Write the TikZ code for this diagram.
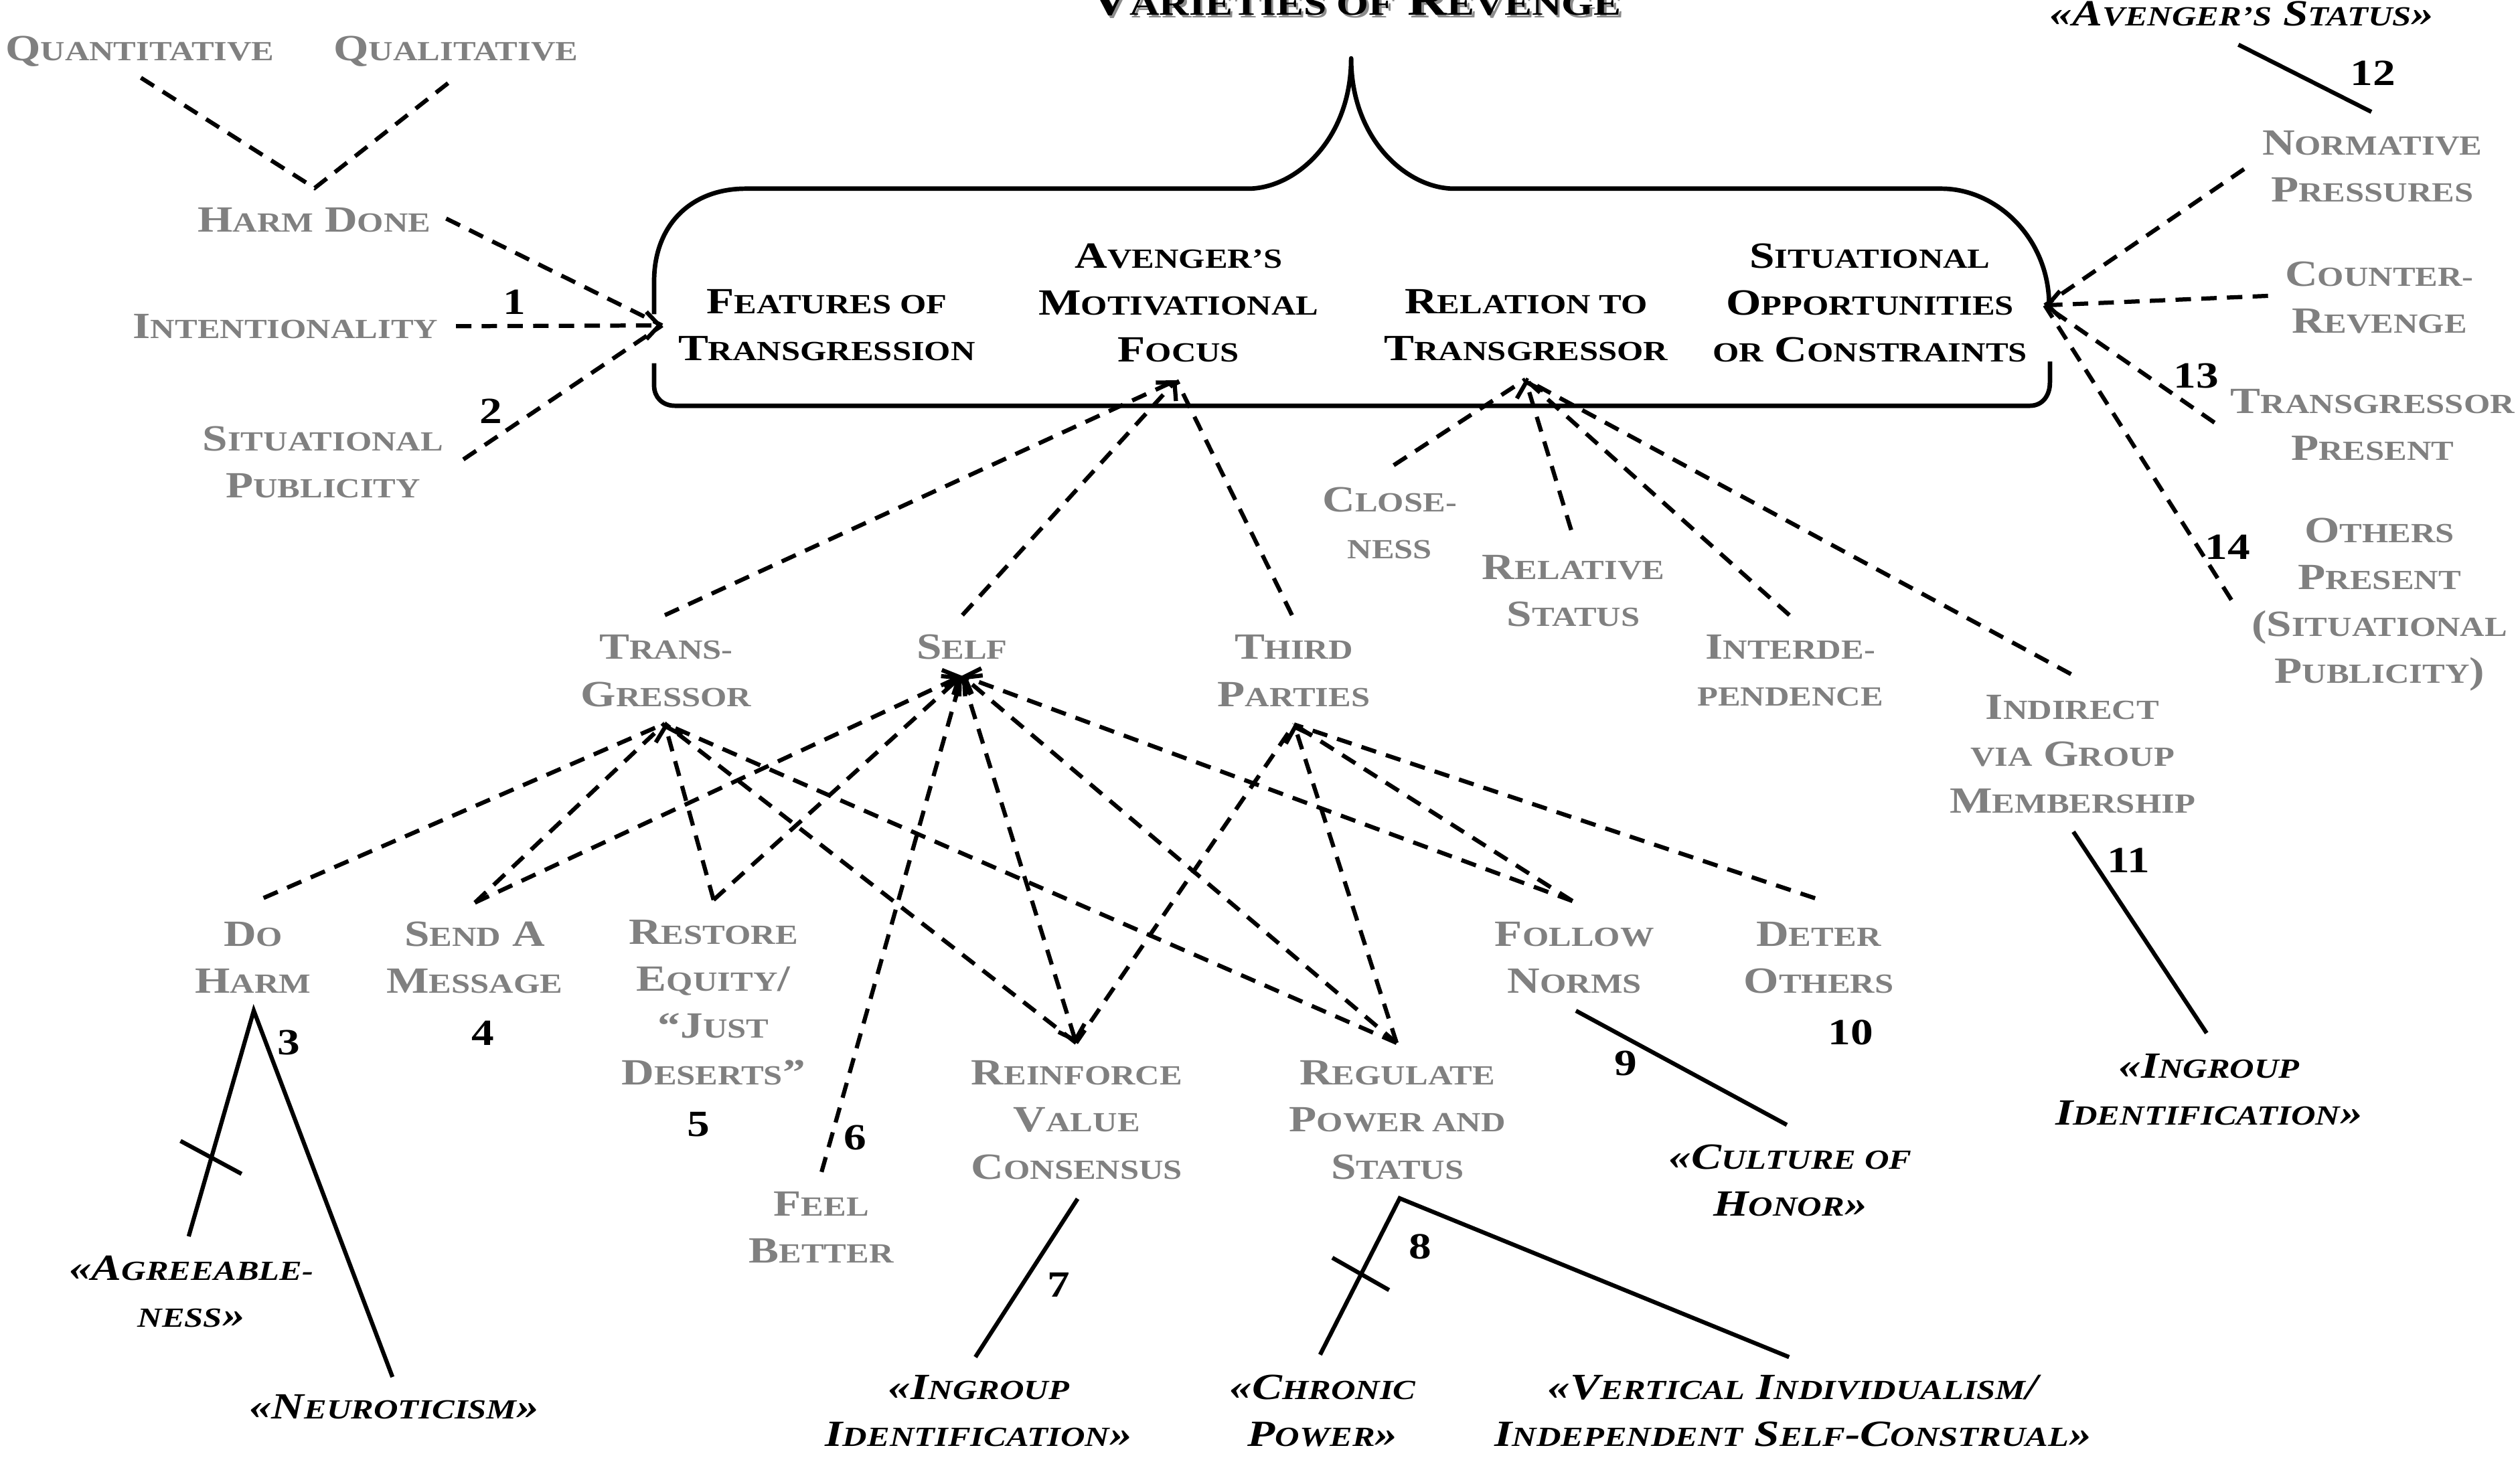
\documentclass[tikz,border=0pt]{standalone}
\usepackage{fontspec}
\setmainfont{Liberation Serif}[FakeStretch=1.22]
\usetikzlibrary{arrows.meta}
\definecolor{lblgray}{RGB}{128,128,128}
\makeatletter
\newcommand\sC[1]{{\fontsize{\fpeval{0.75*\f@size}}{\f@baselineskip}\selectfont\MakeUppercase{#1}}}
\makeatother
\newcommand\ml[1]{\begin{tabular}[t]{@{}c@{}}#1\end{tabular}}
\newcommand\lblfont{\fontsize{11.5}{14.6}\selectfont\bfseries}
\newcommand\itfont{\fontsize{11.5}{14.6}\selectfont\bfseries\itshape}
\newcommand\ttlfont{\fontsize{14}{16}\selectfont\bfseries}
\tikzset{
  lblbase/.style={inner sep=0pt, anchor=base},
  grey/.style={lblbase, text=lblgray, font=\lblfont},
  head/.style={lblbase, text=black, font=\lblfont},
  ital/.style={lblbase, text=black, font=\itfont},
  num/.style={inner sep=0pt, anchor=center, font=\lblfont},
  dsh/.style={line width=1.3pt, dash pattern=on 4.8pt off 3.2pt},
  sol/.style={line width=1.3pt},
  boxline/.style={line width=1.4pt, line join=round},
  tip/.style={-{Straight Barb[length=4pt,width=8.5pt]}},
  tipb/.style={{Straight Barb[length=4pt,width=8.5pt]}-}
}
\begin{document}
\begin{tikzpicture}[x=0.5pt,y=-0.5pt]
\useasboundingbox (0,0) rectangle (1568,912);

% ---------- title ----------
\node[lblbase, font=\ttlfont, text=black!45] (titleshadow) at (845,11) {V\sC{arieties of} R\sC{evenge}};
\node[lblbase, font=\ttlfont] (title) at (843.5,9.5) {V\sC{arieties of} R\sC{evenge}};

% ---------- brace box ----------
\draw[boxline] (407,195.5) -- (407,175) .. controls (407,140) and (430,117.4) .. (464,117.4)
  -- (776.5,117.4) .. controls (806.5,117.4) and (840.7,86.3) .. (840.7,36.3)
  .. controls (840.7,86.3) and (875,117.4) .. (905,117.4)
  -- (1208,117.4) .. controls (1242,117.4) and (1275,148) .. (1275,190);
\draw[boxline] (1275.5,225) -- (1275.5,238) .. controls (1275.5,246) and (1271,252.5) .. (1263,252.5)
  -- (420,252.5) .. controls (412,252.5) and (407,247) .. (407,240) -- (407,226);

% ---------- header texts ----------
\node[head] (feat) at (514.4,195.2) {\ml{F\sC{eatures of}\\T\sC{ransgression}}};
\node[head] (aven) at (733.3,166.7) {\ml{A\sC{venger’s}\\M\sC{otivational}\\F\sC{ocus}}};
\node[head] (rela) at (949.6,195.2) {\ml{R\sC{elation to}\\T\sC{ransgressor}}};
\node[head] (situ) at (1163.5,166.7) {\ml{S\sC{ituational}\\O\sC{pportunities}\\\sC{or} C\sC{onstraints}}};

% ---------- left group ----------
\node[grey] (quan) at (87,37.8) {Q\sC{uantitative}};
\node[grey] (qual) at (283.7,37.8) {Q\sC{ualitative}};
\node[grey] (harm) at (195.5,144.5) {H\sC{arm} D\sC{one}};
\node[grey] (inte) at (177.7,210.4) {I\sC{ntentionality}};
\node[grey] (spub) at (201,280.6) {\ml{S\sC{ituational}\\P\sC{ublicity}}};

\coordinate (qn-e) at (87.7,48.4);
\coordinate (ql-e) at (283.8,47.8);
\coordinate (hd-v) at (195.8,117);
\coordinate (hd-r) at (277.6,136);
\coordinate (in-r) at (283.7,203);
\coordinate (sp-r) at (288.3,285.9);
\coordinate (ft-tip) at (412,202.5);

\draw[dsh] (qn-e) -- (hd-v) -- (ql-e);
\draw[dsh] (hd-r) -- (ft-tip);
\draw[dsh,tip] (in-r) -- (ft-tip);
\draw[dsh] (sp-r) -- (ft-tip);
\node[num] (n1) at (320.1,188) {1};
\node[num] (n2) at (305.5,256) {2};

% ---------- right group ----------
\node[ital] (avst) at (1395,16.1) {«A\sC{venger’s} S\sC{tatus}»};
\node[grey] (norm) at (1476,96.4) {\ml{N\sC{ormative}\\P\sC{ressures}}};
\node[grey] (coun) at (1480.5,178.2) {\ml{C\sC{ounter-}\\R\sC{evenge}}};
\node[grey] (tpre) at (1476.3,257.2) {\ml{T\sC{ransgressor}\\P\sC{resent}}};
\node[grey] (opre) at (1480.6,337.5) {\ml{O\sC{thers}\\P\sC{resent}\\(S\sC{ituational}\\P\sC{ublicity})}};

\coordinate (as-bot) at (1392.8,27.8);
\coordinate (np-top) at (1475.5,69.6);
\coordinate (so-tip) at (1272.3,190);
\coordinate (np-l) at (1396.3,105.2);
\coordinate (cr-l) at (1411.2,184.1);
\coordinate (tq-l) at (1377.9,263);
\coordinate (op-l) at (1388.4,373.3);

\draw[sol] (as-bot) -- (np-top);
\draw[dsh] (np-l) -- (so-tip);
\draw[dsh,tip] (cr-l) -- (so-tip);
\draw[dsh] (tq-l) -- (so-tip);
\draw[dsh] (op-l) -- (so-tip);
\node[num] (n12) at (1476.6,45.3) {12};
\node[num] (n13) at (1366.4,233.8) {13};
\node[num] (n14) at (1386,340.3) {14};

% ---------- relation group ----------
\node[grey] (clos) at (864.7,318.5) {\ml{C\sC{lose-}\\\sC{ness}}};
\node[grey] (rsta) at (979,360.5) {\ml{R\sC{elative}\\S\sC{tatus}}};
\node[grey] (intd) at (1114,410.2) {\ml{I\sC{nterde-}\\\sC{pendence}}};
\node[grey] (indi) at (1289.5,447.5) {\ml{I\sC{ndirect}\\\sC{via} G\sC{roup}\\M\sC{embership}}};

\coordinate (rt-tip) at (949.1,236.1);
\coordinate (cl-top) at (867.2,289.5);
\coordinate (rs-top) at (977.6,329.8);
\coordinate (id-top) at (1113.4,382.8);
\coordinate (ig-top) at (1288.6,419.5);
\draw[dsh] (cl-top) -- (rt-tip);
\draw[dsh,tip] (rs-top) -- (rt-tip);
\draw[dsh] (id-top) -- (rt-tip);
\draw[dsh] (ig-top) -- (rt-tip);

\coordinate (ig-bot) at (1290.1,517.6);
\coordinate (ig2-top) at (1373,642.9);
\draw[sol] (ig-bot) -- (ig2-top);
\node[num] (n11) at (1324.3,535.2) {11};
\node[ital] (ingr) at (1374.5,670.7) {\ml{«I\sC{ngroup}\\I\sC{dentification}»}};

% ---------- motivational focus ----------
\node[grey] (trgr) at (414.5,410.3) {\ml{T\sC{rans-}\\G\sC{ressor}}};
\node[grey] (self) at (598.6,410.3) {\ml{S\sC{elf}}};
\node[grey] (thrd) at (805,410.3) {\ml{T\sC{hird}\\P\sC{arties}}};

\coordinate (am-tip) at (732,236.6);
\coordinate (tr-top) at (413.7,382.8);
\coordinate (sf-top) at (598.8,382.8);
\coordinate (tp-top) at (803.9,382.8);
\draw[dsh] (tr-top) -- (am-tip);
\draw[dsh,tip] (sf-top) -- (am-tip);
\draw[dsh] (tp-top) -- (am-tip);

% ---------- goals ----------
\node[grey] (doha) at (157.5,588.8) {\ml{D\sC{o}\\H\sC{arm}}};
\node[grey] (send) at (295.3,588.8) {\ml{S\sC{end} A\\M\sC{essage}}};
\node[grey] (rest) at (443.9,587.6) {\ml{R\sC{estore}\\E\sC{quity}/\\“J\sC{ust}\\D\sC{eserts}”}};
\node[grey] (feel) at (511,756.5) {\ml{F\sC{eel}\\B\sC{etter}}};
\node[grey] (rein) at (670,675.2) {\ml{R\sC{einforce}\\V\sC{alue}\\C\sC{onsensus}}};
\node[grey] (regu) at (869.5,675.2) {\ml{R\sC{egulate}\\P\sC{ower and}\\S\sC{tatus}}};
\node[grey] (foll) at (979.7,588.8) {\ml{F\sC{ollow}\\N\sC{orms}}};
\node[grey] (dete) at (1131.6,588.8) {\ml{D\sC{eter}\\O\sC{thers}}};

\coordinate (tr-bot) at (413.6,450.3);
\coordinate (sf-bot) at (598.5,420.5);
\coordinate (tp-bot) at (805.2,450.8);
\coordinate (dh-top) at (164,558.8);
\coordinate (sm-top) at (295.5,561.7);
\coordinate (re-top) at (444,560);
\coordinate (fb-top) at (511.2,729.3);
\coordinate (rv-top) at (669.6,649);
\coordinate (rp-top) at (869,649);
\coordinate (fn-top) at (978.4,560.7);
\coordinate (do-top) at (1129.4,559);

% to Transgressor
\draw[dsh] (dh-top) -- (tr-bot);
\draw[dsh] (sm-top) -- (tr-bot);
\draw[dsh,tip] (re-top) -- (tr-bot);
\draw[dsh] (rv-top) -- (tr-bot);
\draw[dsh] (rp-top) -- (tr-bot);
% to Self
\draw[dsh,tip] (sm-top) -- (sf-bot);
\draw[dsh,tip] (re-top) -- (sf-bot);
\draw[dsh,tip] (fb-top) -- (sf-bot);
\draw[dsh,tip,tipb] (rv-top) -- (sf-bot);
\draw[dsh,tip] (rp-top) -- (sf-bot);
\draw[dsh,tip] (fn-top) -- (sf-bot);
% to Third Parties
\draw[dsh] (rv-top) -- (tp-bot);
\draw[dsh,tip] (rp-top) -- (tp-bot);
\draw[dsh] (fn-top) -- (tp-bot);
\draw[dsh] (do-top) -- (tp-bot);

% ---------- moderators ----------
\coordinate (dh-apex) at (157.9,628.9);
\coordinate (ag-top) at (117.4,769.4);
\coordinate (ne-top) at (244.2,856.9);
\coordinate (t3a) at (112.3,710);
\coordinate (t3b) at (150.3,730.5);
\draw[sol] (ag-top) -- (dh-apex) -- (ne-top);
\draw[sol] (t3a) -- (t3b);
\node[num] (n3) at (179.6,649) {3};
\node[num] (n4) at (300.5,643.1) {4};
\node[num] (n5) at (434.5,699.8) {5};
\node[num] (n6) at (532,708) {6};
\node[ital] (agre) at (119,796.6) {\ml{«A\sC{greeable-}\\\sC{ness}»}};
\node[ital] (neur) at (245.3,882.8) {«N\sC{euroticism}»};

\coordinate (rv-bot) at (670.5,746);
\coordinate (ig1-top) at (606.9,844.5);
\draw[sol] (rv-bot) -- (ig1-top);
\node[num] (n7) at (658.9,799.7) {7};
\node[ital] (ingl) at (609,871) {\ml{«I\sC{ngroup}\\I\sC{dentification}»}};

\coordinate (rp-bot) at (870.9,745.7);
\coordinate (ch-top) at (821.4,843);
\coordinate (vi-top) at (1113.2,844.5);
\coordinate (t8a) at (829,782.7);
\coordinate (t8b) at (864.3,802.8);
\draw[sol] (ch-top) -- (rp-bot) -- (vi-top);
\draw[sol] (t8a) -- (t8b);
\node[num] (n8) at (883.5,775.9) {8};
\node[ital] (chro) at (823,871) {\ml{«C\sC{hronic}\\P\sC{ower}»}};
\node[ital] (vert) at (1115.7,871) {\ml{«V\sC{ertical} I\sC{ndividualism}/\\I\sC{ndependent} S\sC{elf}-C\sC{onstrual}»}};

\coordinate (fn-bot) at (980.6,629);
\coordinate (cu-top) at (1111.8,700);
\draw[sol] (fn-bot) -- (cu-top);
\node[num] (n9) at (1011.7,661.6) {9};
\node[num] (n10) at (1151.5,642.4) {10};
\node[ital] (cult) at (1114,727.4) {\ml{«C\sC{ulture of}\\H\sC{onor}»}};
\end{tikzpicture}
\end{document}
